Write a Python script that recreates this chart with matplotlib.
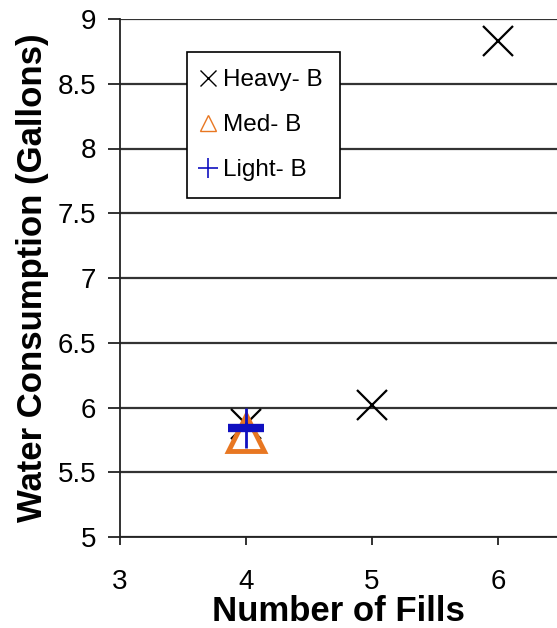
import matplotlib
matplotlib.use('Agg')
import matplotlib.pyplot as plt
from matplotlib.lines import Line2D

plt.rcParams['font.family'] = ['Liberation Sans', 'DejaVu Sans']

# data
heavy_x = [4, 5, 6]
heavy_y = [5.87, 6.02, 8.83]
med_x = [4]
med_y = [5.80]
light_x = [4]
light_y = [5.84]

x_ticks = [3, 4, 5, 6]
y_ticks = [5, 5.5, 6, 6.5, 7, 7.5, 8, 8.5, 9]

orange = '#E87722'
blue = '#1010C0'

W, H = 557, 628
fig = plt.figure(figsize=(W / 100, H / 100), dpi=100)
ax = fig.add_axes([120 / W, 1 - 537 / H, 1 - 120 / W, (537 - 19) / H])

ax.set_xlim(3, 3 + (W - 120) / 126)
ax.set_ylim(5, 9)
ax.set_xticks(x_ticks)
ax.set_yticks(y_ticks)
ax.set_yticklabels(['5', '5.5', '6', '6.5', '7', '7.5', '8', '8.5', '9'])
ax.yaxis.grid(True, color='#333333', linewidth=1.6)
ax.set_axisbelow(True)

for s in ['top', 'right']:
    ax.spines[s].set_visible(False)
for s in ['left', 'bottom']:
    ax.spines[s].set_color('#222222')
    ax.spines[s].set_linewidth(1.3)

ax.tick_params(axis='both', labelsize=20, width=1.3, color='#222222')
ax.tick_params(axis='x', length=6, pad=17)
ax.tick_params(axis='y', length=9, pad=8)

ax.plot(heavy_x, heavy_y, linestyle='none', marker='x', markersize=22,
        markeredgewidth=1.6, color='black', zorder=3, clip_on=False)
ax.plot(med_x, med_y, linestyle='none', marker='^', markersize=26,
        markerfacecolor='none', markeredgecolor=orange, markeredgewidth=3.5, zorder=4)
ax.plot(light_x, light_y, linestyle='none', marker='_', markersize=26,
        markeredgewidth=6, color=blue, zorder=5)
ax.plot(light_x, light_y, linestyle='none', marker='|', markersize=29,
        markeredgewidth=2, color=blue, zorder=6)

ax.set_xlabel('Number of Fills', fontsize=25, fontweight='bold', labelpad=0)
ax.set_ylabel('Water Consumption (Gallons)', fontsize=25, fontweight='bold', labelpad=6)

handles = [
    Line2D([], [], linestyle='none', marker='x', markersize=12, markeredgewidth=1, color='black'),
    Line2D([], [], linestyle='none', marker='^', markersize=12, markerfacecolor='none',
           markeredgecolor=orange, markeredgewidth=1),
    Line2D([], [], linestyle='none', marker='+', markersize=14, markeredgewidth=1.2, color=blue),
]
leg = fig.legend(handles, ['Heavy- B', 'Med- B', 'Light- B'],
                 loc='upper left', bbox_to_anchor=(187 / W, 1 - 52 / H),
                 bbox_transform=fig.transFigure, borderaxespad=0,
                 fontsize=17.5, frameon=True, fancybox=False, framealpha=1,
                 edgecolor='black', handlelength=0.3, handletextpad=0.5,
                 labelspacing=0.95, borderpad=0.7)
leg.get_frame().set_linewidth(1.2)

fig.savefig('out.png', dpi=100)
